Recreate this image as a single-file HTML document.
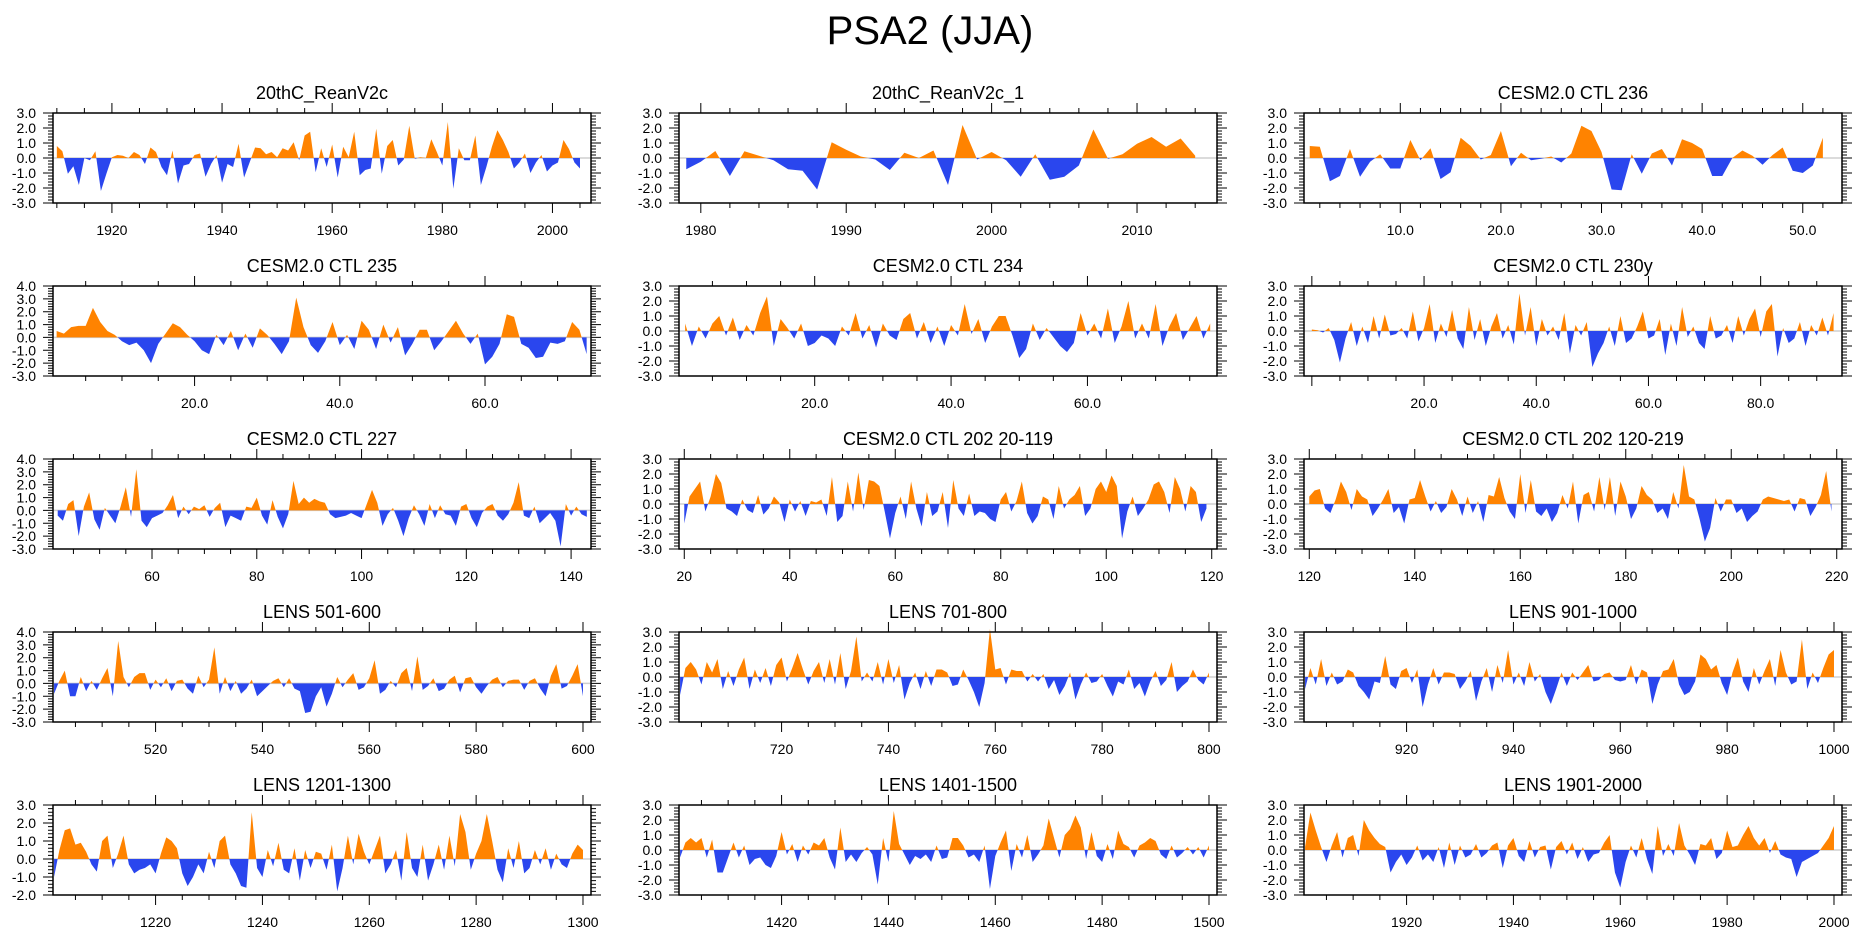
<!DOCTYPE html>
<html><head><meta charset="utf-8"><title>PSA2 (JJA)</title>
<style>
html,body{margin:0;padding:0;background:#fff;}
svg{display:block;font-family:"Liberation Sans",Arial,sans-serif;}
</style></head>
<body>
<svg id="fig" width="1861" height="936" viewBox="0 0 1861 936">
<text x="930" y="44" text-anchor="middle" font-size="40" fill="#000">PSA2 (JJA)</text>
</svg>
<script>
// ---- data arrays (one value per time step) ----
const p1Values = [0.8,0.45,-1.05,-0.55,-1.8,0,-0.15,0.45,-2.2,-1.05,0.05,0.2,0.15,0,0.4,0.2,-0.4,0.7,0.4,-0.6,-1.15,0.5,-1.7,-0.5,-0.4,0.2,0.3,-1.25,-0.4,0.2,-1.65,-0.4,-0.6,0.95,-1.3,-0.3,0.7,0.65,0.25,0.4,0.05,0.65,0.5,1.05,-0.15,1.5,1.75,-0.95,0.65,-0.6,0.9,-1.3,0.75,0.05,1.75,-1.15,-0.8,-0.7,1.95,-1.05,0.8,1.2,-0.5,-0.1,2.15,-0.05,0.05,0,1.25,0.4,-0.5,2.4,-2.05,0.65,-0.15,-0.15,1.5,-1.8,-0.6,0.75,1.85,1.2,0.4,-0.7,-0.3,0.3,-1.0,-0.3,0.2,-0.9,-0.5,-0.3,1.2,0.6,-0.3,-0.7];
const p2Values = [-0.75,-0.25,0.47,-1.2,0.45,0.15,-0.15,-0.75,-0.85,-2.1,1.05,0.55,0.1,-0.1,-0.8,0.35,0.0,0.5,-1.8,2.2,-0.1,0.4,-0.15,-1.25,0.25,-1.45,-1.25,-0.5,1.9,-0.05,0.25,0.95,1.4,0.75,1.3,0.15];
const p3Values = [0.8,0.75,-1.55,-1.2,0.6,-1.25,-0.25,0.25,-0.7,-0.7,1.2,-0.15,0.65,-1.4,-0.95,1.35,0.8,-0.1,0.2,1.8,-0.55,0.35,-0.15,-0.05,0.1,-0.3,0.3,2.15,1.8,0.4,-2.1,-2.15,0.25,-1.05,0.3,0.6,-0.5,1.25,1.0,0.6,-1.2,-1.2,0.0,0.5,0.15,-0.45,0.2,0.7,-0.85,-1.0,-0.5,1.35];
const p4Values = [0.5,0.3,0.8,0.9,0.9,2.3,1.2,0.5,0.2,-0.3,-0.6,-0.4,-1.0,-2.0,-0.5,0.3,1.1,0.8,0.2,-0.3,-1.0,-1.3,0.2,-0.6,0.5,-1.0,0.3,-0.8,0.7,0.2,-0.5,-1.3,-0.3,3.1,0.8,-0.6,-1.2,-0.3,1.2,-0.6,0.2,-0.9,1.3,0.6,-0.9,1.0,-0.4,0.8,-1.4,-0.5,0.6,0.6,-1.0,-0.3,0.5,1.3,0.3,-0.5,0.3,-2.1,-1.5,-0.5,1.8,1.6,-0.5,-0.8,-1.6,-1.5,-0.4,-0.5,-0.3,1.2,0.6,-1.3];
const p5Values = [0.5,-1.0,0.3,-0.5,0.5,1.0,-0.3,0.9,-0.6,0.4,-0.3,1.2,2.3,-1.0,0.8,0.2,-0.5,0.5,-1.0,-0.8,-0.3,-0.5,-1.0,0.3,-0.3,1.2,-0.5,0.4,-1.1,0.5,-0.3,-0.6,0.8,1.2,-0.5,0.6,-0.8,0.3,-1.0,0.4,-0.3,1.8,-0.2,0.8,-0.8,0.3,1.0,1.0,-0.3,-1.8,-1.2,0.5,-0.6,0.2,-0.4,-1.0,-1.4,-0.8,1.2,-0.3,0.5,-0.5,1.5,-0.8,0.3,2.0,-0.5,0.5,-0.5,1.8,-1.0,0.3,1.2,-0.6,0.2,1.0,-0.5,0.5];
const p6Values = [0.1,0.05,-0.1,0.2,-0.6,-2.1,-0.5,0.6,-1.0,0.3,-0.8,1.0,-0.5,1.1,-0.3,-0.2,0.2,-0.5,1.3,-0.7,0.2,1.8,-0.8,0.5,-0.4,1.4,-0.5,-1.2,1.6,-0.6,0.8,-1.0,0.3,1.2,-0.5,0.4,-0.9,2.5,-0.3,1.6,-1.0,0.8,-0.3,0.3,-0.6,1.2,-1.5,0.4,-0.3,0.6,-2.4,-1.5,-0.8,0.3,-1.0,1.0,-0.8,-0.5,0.3,1.3,-0.5,-0.3,0.8,-1.6,0.5,-1.0,1.6,-0.4,0.3,-0.8,-1.2,1.0,-0.5,-0.3,0.4,-0.8,1.0,-0.3,0.8,1.5,-0.4,1.3,1.8,-1.7,0.2,-0.8,-0.5,0.6,-1.0,0.4,-0.3,0.9,-0.3,1.2];
const p7Values = [-0.4,-0.8,0.5,0.8,-2.0,0.3,1.4,-0.7,-1.5,0.2,-0.4,-1.0,0.3,1.8,-0.5,3.2,-0.8,-1.3,-0.6,-0.4,-0.2,0.4,1.2,-0.6,0.3,-0.3,0.3,0.1,0.4,-0.5,0.2,0.6,-1.3,-0.4,-0.6,-0.8,0.3,0.2,1.0,-0.4,-1.1,0.8,-0.5,-1.4,-0.3,2.3,0.5,1.0,0.6,0.9,0.7,0.6,-0.3,-0.6,-0.5,-0.4,-0.2,-0.4,-0.6,0.5,1.6,0.6,-1.2,-0.3,0.2,-0.8,-2.0,-0.6,0.4,-0.3,-1.2,0.5,-0.6,0.4,-0.3,-0.4,-1.2,0.3,0.5,-0.6,-1.3,-0.2,0.3,0.5,-0.4,-0.8,-0.3,0.6,2.2,-0.4,-0.6,0.3,-1.0,-0.6,-0.2,-0.8,-2.8,0.5,-0.4,0.3,-0.3,-0.5];
const p8Values = [-1.3,0.5,1.0,1.5,-0.5,0.5,2.0,1.4,-0.3,-0.5,-0.8,0.3,-0.4,-0.6,0.6,-0.7,-0.3,0.5,0.1,-1.2,0.3,-0.5,0.2,-0.8,0.2,0.1,0.3,-0.8,1.8,-1.2,-0.8,1.5,-0.5,2.1,-0.4,1.6,1.5,1.2,-0.5,-2.3,-0.6,0.5,-1.0,1.5,-0.3,-1.5,0.8,-0.8,-0.5,0.8,-1.6,1.6,-0.3,-0.8,0.7,-0.8,-0.5,-0.6,-1.0,-1.2,0.3,0.8,-0.5,0.2,1.5,-0.6,-1.3,-0.8,0.5,0.3,-1.0,1.2,-0.3,0.3,0.6,1.2,-0.8,-0.3,1.0,1.5,0.8,1.9,1.2,-2.3,-0.5,0.5,-0.8,-0.3,0.3,1.3,1.5,0.8,-0.6,1.8,1.0,-0.5,1.2,0.8,-1.2,-0.3];
const p9Values = [0.5,0.9,1.0,-0.3,-0.6,0.3,1.5,0.8,-0.4,1.0,0.5,0.3,-0.8,-0.3,0.3,1.0,-0.6,-0.2,-1.3,0.3,0.4,1.6,0.5,-0.5,0.2,-0.6,-0.2,1.0,0.3,-0.8,0.5,-0.6,0.2,-1.2,0.6,0.5,1.8,0.4,-0.5,-1.0,2.0,-0.6,1.6,-0.5,-0.8,-0.3,-1.2,-0.6,0.6,-0.3,1.5,-1.3,0.6,0.8,-0.5,1.8,-0.4,1.8,-0.8,1.5,0.5,-1.0,-0.3,1.2,0.6,0.3,-0.6,-0.3,-1.0,0.8,-0.3,2.6,0.5,0.3,-1.0,-2.5,-1.6,0.4,-0.5,0.3,0.3,-0.6,-0.3,-1.2,-0.8,-0.5,0.3,0.5,0.4,0.3,0.2,0.3,-0.5,0.4,0.3,-0.8,-0.2,0.6,2.2,-0.5];
const p10Values = [-0.8,0.2,1.0,-1.0,-1.0,0.5,-0.6,0.2,-0.5,0.4,1.2,-1.0,3.3,0.5,-0.3,0.5,0.8,0.8,-0.5,0.3,-0.3,0.4,-0.6,0.2,0.3,-0.4,-0.8,0.6,-0.3,0.3,2.8,-0.8,0.5,-0.6,0.2,-0.8,-0.4,0.3,-1.0,-0.6,-0.2,0.2,0.4,-0.3,0.4,-0.4,-0.6,-2.3,-2.2,-1.0,-0.3,-1.8,-0.8,0.5,-0.3,0.3,0.8,-0.5,-0.3,0.4,1.8,-0.8,-0.5,0.2,-0.3,0.8,1.2,-0.6,2.1,-0.5,-0.2,0.4,-0.6,-0.4,0.3,0.6,-0.7,0.4,0.5,-0.3,-0.8,-0.2,0.3,0.5,-0.3,0.2,0.3,0.3,-0.5,0.2,0.4,-0.4,-1.0,0.6,1.5,-0.4,-0.2,0.6,1.5,-1.0];
const p11Values = [-1.2,0.6,1.0,0.5,-0.5,1.0,0.3,1.2,-0.8,0.4,-0.6,0.5,1.3,-0.8,0.5,-0.4,0.6,-0.6,0.8,1.3,-0.3,0.6,1.6,0.5,-0.5,0.4,1.0,-0.4,1.2,-0.5,1.6,-0.8,0.4,2.7,-0.3,0.3,-0.3,1.0,-0.5,1.2,-0.4,0.8,-1.5,-0.4,0.3,-0.8,0.4,-0.6,0.5,0.5,0.3,-0.6,-0.5,0.5,-0.2,-1.0,-2.0,-0.4,3.2,0.5,0.6,-0.5,0.5,0.4,0.4,-0.3,0.2,-0.3,0.2,-0.8,-0.2,-1.2,-0.6,0.3,-1.5,-0.5,0.3,-0.4,-0.3,0.2,-0.6,-1.3,-0.3,-0.5,0.5,-0.8,-0.4,-1.3,-0.3,0.4,-0.6,-0.2,1.0,-1.0,-0.6,-0.3,0.5,-0.2,-0.5,0.3];
const p12Values = [-0.8,0.6,-0.5,1.2,-0.6,0.3,-0.5,-0.3,0.5,0.3,-0.6,-1.0,-1.5,-0.3,-0.4,1.4,-0.5,-0.8,0.4,0.6,-0.4,0.5,-2.0,-0.5,0.6,-0.5,0.3,0.3,0.2,-0.8,-0.3,0.4,-1.6,-0.3,0.6,-1.0,0.8,-0.4,1.8,-0.5,0.3,-0.6,1.0,-0.3,0.2,-1.0,-1.8,-0.8,0.3,-0.6,0.3,-0.2,0.3,0.8,-0.3,-0.2,0.2,0.3,-0.2,-0.3,-0.2,0.8,-0.5,0.5,0.3,-1.8,-0.5,0.4,0.5,1.2,-0.5,-1.2,-1.0,-0.3,1.5,1.2,0.5,0.8,-0.4,-1.2,0.3,1.3,-0.3,-1.0,0.6,-0.5,0.4,1.2,-0.6,1.8,0.3,-0.5,-0.3,2.5,-0.8,0.3,-0.4,0.6,1.5,1.8];
const p13Values = [-1.0,0.5,1.6,1.7,0.8,0.9,0.4,-0.3,-0.7,1.0,1.3,-0.5,0.3,1.3,-0.3,-0.8,-0.6,-0.5,-0.3,-0.8,0.3,1.2,1.0,0.6,-0.8,-1.5,-1.0,-0.3,-0.8,0.4,-0.5,1.0,1.3,-0.3,-0.8,-1.5,-1.6,2.6,-0.5,-1.0,0.5,-0.4,0.9,-0.6,-0.8,0.6,-1.2,0.5,-0.5,0.4,0.3,-0.6,0.8,-1.8,-0.5,1.3,-0.3,1.4,0.4,-0.3,0.5,1.3,-0.8,-0.3,0.5,-1.2,1.5,-0.5,-1.0,0.8,-1.2,-0.3,0.8,-0.6,1.3,-0.4,2.5,1.5,-0.6,0.3,1.0,2.5,1.0,-0.6,-1.3,0.6,-0.5,1.0,-0.8,-0.5,0.5,-0.3,0.6,-0.6,0.3,-0.3,-0.5,0.3,0.8,0.5];
const p14Values = [-0.5,0.5,0.8,0.5,0.8,-0.5,0.7,-1.5,-1.5,-0.5,0.5,-0.5,0.3,-1.0,-0.6,-0.5,-1.0,-1.2,-0.4,1.2,-0.3,0.4,-0.8,0.3,-0.3,0.5,0.3,0.8,-0.5,-1.3,1.5,-0.8,-0.3,-0.8,-0.2,0.2,-0.3,-2.3,0.8,-0.8,2.6,0.4,-0.3,-1.0,-0.4,-0.6,-0.3,-0.8,0.3,-0.6,-0.5,0.8,0.8,0.3,-0.5,-0.3,-0.8,0.3,-2.6,-0.4,0.5,1.3,-1.4,0.4,-0.5,1.0,-0.8,-0.3,0.3,2.1,0.8,-0.5,1.0,1.4,2.3,1.5,-0.6,1.2,-0.4,-0.8,0.4,-0.6,1.3,0.4,0.2,-0.5,0.3,0.5,0.8,0.6,-0.3,-0.6,0.3,-0.5,-0.2,0.2,-0.3,0.2,-0.5,0.3];
const p15Values = [0.2,2.5,1.3,0.2,-0.8,0.3,1.2,-0.5,0.8,1.0,-0.4,2.0,1.3,0.8,0.4,0.2,-1.5,-0.8,-0.3,-1.0,-0.5,0.3,-0.7,-0.3,-0.8,0.2,-1.2,0.5,-1.0,0.3,-0.5,-0.3,0.4,-0.5,-0.2,0.3,0.5,-1.2,0.3,0.8,-0.4,-0.8,0.6,-0.5,0.2,0.3,-1.3,0.2,0.6,-0.3,0.5,-0.6,0.2,-0.8,-0.3,-0.2,0.5,1.0,-1.5,-2.5,-0.8,0.3,-0.5,0.8,-0.6,-1.6,1.6,-0.4,0.4,-0.4,1.8,0.3,-0.3,-1.0,0.4,0.3,0.8,-0.6,-0.2,1.3,0.2,0.3,1.0,1.6,0.8,0.3,0.8,-0.2,0.6,-0.3,-0.5,-0.6,-1.8,-0.8,-0.6,-0.4,-0.2,0.3,0.8,1.6];

const panelTitles = ["20thC_ReanV2c","20thC_ReanV2c_1","CESM2.0 CTL 236","CESM2.0 CTL 235","CESM2.0 CTL 234","CESM2.0 CTL 230y","CESM2.0 CTL 227","CESM2.0 CTL 202 20-119","CESM2.0 CTL 202 120-219","LENS 501-600","LENS 701-800","LENS 901-1000","LENS 1201-1300","LENS 1401-1500","LENS 1901-2000"];
const panelStarts = [1910,1979,1,1,1,0,42,20,120,501,701,901,1201,1401,1901];
const panelSeries = [p1Values,p2Values,p3Values,p4Values,p5Values,p6Values,p7Values,p8Values,p9Values,p10Values,p11Values,p12Values,p13Values,p14Values,p15Values];
const panelYMin = [-3,-3,-3,-3,-3,-3,-3,-3,-3,-3,-3,-3,-2,-3,-3];
const panelYMax = [3,3,3,4,3,3,4,3,3,4,3,3,3,3,3];
const panelXMin = [1909.3,1978.5,0.43,0.5,0.1,-1.4,41.1,19,119,500.8,700.8,900.8,1200.8,1400.8,1900.8];
const panelXMax = [2007,2015.5,53.9,74.6,79,94.5,143.8,121,221,601.5,801.5,1001.5,1301.5,1501.5,2001.5];
const panelMajor = [20,10,10,20,20,20,20,20,20,20,20,20,20,20,20];
const panelMinor = [5,2,2,5,5,5,5,5,5,5,5,5,5,5,5];
const panelDecimals = [0,0,1,1,1,1,0,0,0,0,0,0,0,0,0];

const NS = "http://www.w3.org/2000/svg";
const svg = document.getElementById('fig');
const colLeft = [53,679,1304], rowTop = [113,286,459,632,805];
const PW = 538, PH = 90;
function mk(tag, attrs, parent){
  const e = document.createElementNS(NS, tag);
  for (const k in attrs) e.setAttribute(k, attrs[k]);
  parent.appendChild(e);
  return e;
}

for (let p = 0; p < 15; p++) {
  const L = colLeft[p % 3], T = rowTop[Math.floor(p / 3)];
  const xmin = panelXMin[p], xmax = panelXMax[p], ymin = panelYMin[p], ymax = panelYMax[p];
  const xs = v => L + (v - xmin) / (xmax - xmin) * PW;
  const ys = v => T + (ymax - v) / (ymax - ymin) * PH;
  const g = mk('g', {}, svg);
  
  

  const title = mk('text', {x: L + PW / 2, y: T - 14, 'text-anchor': 'middle', 'font-size': 18}, g);
  title.textContent = panelTitles[p];
  
  

  const zl = mk('line', {x1: L, x2: L + PW, y1: ys(0), y2: ys(0), stroke: '#cfcfcf', 'stroke-width': 1.5}, g);
  
  

  const vals = panelSeries[p], st = panelStarts[p];
  const pts = [];
  for (let i = 0; i < vals.length; i++) {
    const t = st + i, v = vals[i];
    if (i > 0) {
      const pv = vals[i - 1];
      if ((pv > 0 && v < 0) || (pv < 0 && v > 0)) {
        const f = pv / (pv - v);
        pts.push([t - 1 + f, 0]);
      }
    }
    pts.push([t, v]);
  }
  const t0 = pts[0][0], t1 = pts[pts.length - 1][0];
  let pos = `${xs(t0)},${ys(0)} `, neg = `${xs(t0)},${ys(0)} `;
  for (const [t, v] of pts) {
    pos += `${xs(t).toFixed(2)},${ys(Math.max(v, 0)).toFixed(2)} `;
    neg += `${xs(t).toFixed(2)},${ys(Math.min(v, 0)).toFixed(2)} `;
  }
  pos += `${xs(t1)},${ys(0)}`; neg += `${xs(t1)},${ys(0)}`;
  const pa = mk('polygon', {points: pos, fill: '#ff8300'}, g);
  
  
  const na = mk('polygon', {points: neg, fill: '#2a46ee'}, g);
  
  

  const fr = mk('rect', {x: L, y: T, width: PW, height: PH, fill: 'none', stroke: '#000', 'stroke-width': 1.5}, g);
  
  

  let ticks = '';
  const mn = panelMinor[p], mj = panelMajor[p];
  for (let v = Math.ceil(xmin / mn) * mn; v <= xmax + 1e-9; v += mn) {
    const isMaj = Math.abs(v / mj - Math.round(v / mj)) < 1e-6;
    const len = isMaj ? 10 : 5, x = xs(v).toFixed(2);
    ticks += `M${x},${T}V${T - len}M${x},${T + PH}V${T + PH + len}`;
    if (isMaj && Math.abs(v) > 1e-9) {
      const lb = mk('text', {x: x, y: T + PH + 32, 'text-anchor': 'middle', 'font-size': 14}, g);
      lb.textContent = v.toFixed(panelDecimals[p]);
      
      
    }
  }
  for (let k = Math.round(ymin * 5); k <= Math.round(ymax * 5); k++) {
    const v = k / 5, y = ys(v).toFixed(2);
    const isMaj = k % 5 === 0, len = isMaj ? 10 : 5;
    ticks += `M${L},${y}H${L - len}M${L + PW},${y}H${L + PW + len}`;
    if (isMaj) {
      const lb = mk('text', {x: L - 17, y: +y + 5, 'text-anchor': 'end', 'font-size': 14}, g);
      lb.textContent = v.toFixed(1);
      
      
    }
  }
  const tk = mk('path', {d: ticks, stroke: '#000', 'stroke-width': 1, fill: 'none'}, g);
  
  
}
</script>
</body></html>
